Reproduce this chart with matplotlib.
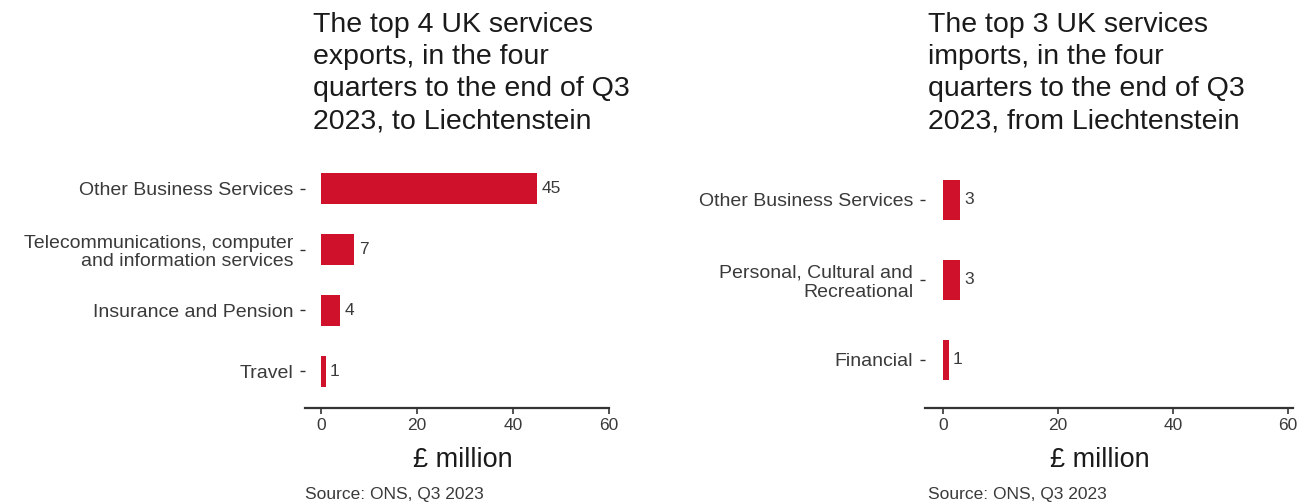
import matplotlib
matplotlib.use("Agg")
import matplotlib.pyplot as plt

plt.rcParams['font.family'] = ['Liberation Sans', 'DejaVu Sans']

# Data
exp_categories = ["Other Business Services",
                  "Telecommunications, computer\nand information services",
                  "Insurance and Pension",
                  "Travel"]
exp_values = [45, 7, 4, 1]

imp_categories = ["Other Business Services",
                  "Personal, Cultural and\nRecreational",
                  "Financial"]
imp_values = [3, 3, 1]

x_ticks = [0, 20, 40, 60]
exp_title = "The top 4 UK services\nexports, in the four\nquarters to the end of Q3\n2023, to Liechtenstein"
imp_title = "The top 3 UK services\nimports, in the four\nquarters to the end of Q3\n2023, from Liechtenstein"
x_label = "£ million"
source = "Source: ONS, Q3 2023"

BAR = '#D0112B'
TXT = '#3a3a3a'

W, H = 1311, 504
fig = plt.figure(figsize=(W/100, H/100), dpi=100)

def px(x0, y_top, x1, y_bot):
    return [x0/W, 1 - y_bot/H, (x1-x0)/W, (y_bot-y_top)/H]

def panel(rect, cats, vals, xlim, title, title_x, src_x, xlab_x):
    ax = fig.add_axes(rect)
    n = len(cats)
    ys = list(range(n))
    ax.barh(ys, vals, height=0.5, color=BAR)
    for y, v in zip(ys, vals):
        ax.annotate(str(v), xy=(v, y), xytext=(3, 0), textcoords='offset points',
                    va='center', ha='left', fontsize=12.5, color=TXT)
    ax.set_ylim(n - 0.4, -0.6)
    ax.set_xlim(*xlim)
    ax.set_yticks(ys)
    ax.set_yticklabels(cats, fontsize=14, color=TXT, ha='right', linespacing=1.15)
    ax.set_xticks(x_ticks)
    ax.set_xticklabels([str(t) for t in x_ticks], fontsize=12.5, color=TXT)
    for s in ['top', 'right', 'left']:
        ax.spines[s].set_visible(False)
    ax.spines['bottom'].set_color('#333333')
    ax.spines['bottom'].set_linewidth(1.6)
    ax.tick_params(axis='x', length=4, width=1.2, color='#333333', pad=3)
    ax.tick_params(axis='y', length=3.5, width=1.0, color='#333333', pad=5)
    fig.text(xlab_x/W, 1 - 460/H, x_label, fontsize=19.5, color='#1a1a1a',
             ha='center', va='center')
    fig.text(title_x/W, 1 - 12/H, title, fontsize=20.5, color='#1a1a1a',
             ha='left', va='top', linespacing=1.3)
    fig.text(src_x/W, 1 - 494/H, source, fontsize=12.5, color=TXT,
             ha='left', va='center')
    return ax

panel(px(305, 152, 609, 408), exp_categories, exp_values, (-3.3, 60),
      exp_title, 313, 305, 463)
panel(px(925, 152, 1293, 408), imp_categories, imp_values, (-3.1, 60.9),
      imp_title, 928, 928, 1100)

fig.savefig("out.png", dpi=100)
